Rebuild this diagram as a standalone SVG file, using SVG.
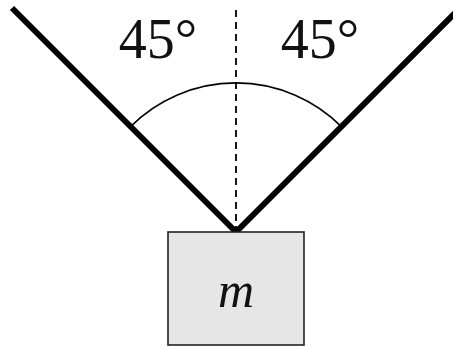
<svg xmlns="http://www.w3.org/2000/svg" width="453" height="347" viewBox="0 0 453 347">
<style>
.rope{stroke:#000;stroke-width:6;fill:none;stroke-linecap:butt}
.lbl{font-family:"Liberation Serif","Times New Roman",serif;font-size:56px;fill:#111}
</style>
<rect width="453" height="347" fill="#fff"/>
<g id="connectors">
<line class="rope" x1="12" y1="8" x2="237" y2="233"/>
<line class="rope" x1="460" y1="8" x2="235" y2="233"/>
<line x1="236" y1="10" x2="236" y2="232" stroke="#000" stroke-width="1.8" stroke-dasharray="7,5"/>
<path d="M130.6,126.6 A149,149 0 0 1 341.4,126.6" fill="none" stroke="#000" stroke-width="1.6"/>
</g>
<g id="label-left"><text class="lbl" x="158" y="58" text-anchor="middle">45°</text></g>
<g id="label-right"><text class="lbl" x="320" y="58" text-anchor="middle">45°</text></g>
<g id="mass">
<rect x="168" y="232" width="136" height="113" fill="#e6e6e6" stroke="#222" stroke-width="1.6"/>
<text x="236" y="307" text-anchor="middle" font-family="Liberation Serif,serif" font-style="italic" font-size="50" fill="#111">m</text>
</g>
</svg>
